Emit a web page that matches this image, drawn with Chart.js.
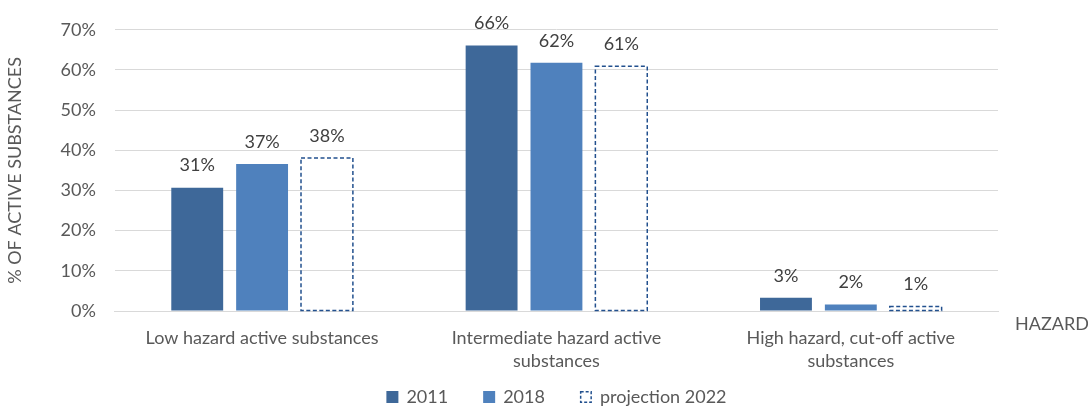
<!DOCTYPE html>
<html>
<head>
<meta charset="utf-8">
<script src="https://cdn.jsdelivr.net/npm/chart.js@4"></script>
<style>
  html, body { margin: 0; padding: 0; background: #fff; }
  #wrap { width: 1088px; height: 407px; }
</style>
</head>
<body>
<div id="wrap"><canvas id="hazardChart"></canvas></div>
<script>
const categories = [
  "Low hazard active substances",
  ["Intermediate hazard active", "substances"],
  ["High hazard, cut-off active", "substances"]
];
const seriesNames = ["2011", "2018", "projection 2022"];
const values2011 = [30.7, 66.1, 3.3];
const values2018 = [36.6, 61.8, 1.6];
const values2022 = [38.1, 60.9, 1.1];
const labels2011 = ["31%", "66%", "3%"];
const labels2018 = ["37%", "62%", "2%"];
const labels2022 = ["38%", "61%", "1%"];
const yTicks = [0, 10, 20, 30, 40, 50, 60, 70];

const FONT = "Lato, 'Open Sans', sans-serif";
const TEXT = "#595959";
const SIZE = 18;
const C2011 = "#3E6899";
const C2018 = "#4F81BD";
const CDASH = "#22508E";

// dashed outline for projection bars, value labels, HAZARD title, legend
const extras = {
  id: "extras",
  afterDatasetsDraw(chart) {
    const ctx = chart.ctx;
    const area = chart.chartArea;
    ctx.save();
    ctx.strokeStyle = CDASH;
    ctx.lineWidth = 1.5;
    ctx.setLineDash([4, 2.5]);
    chart.getDatasetMeta(2).data.forEach(bar => {
      const p = bar.getProps(["x", "y", "width", "base"], true);
      ctx.strokeRect(p.x - p.width / 2, p.y, p.width, p.base - p.y);
    });
    ctx.restore();

    const allLabels = [labels2011, labels2018, labels2022];
    ctx.save();
    ctx.font = SIZE + "px " + FONT;
    ctx.fillStyle = "#404040";
    ctx.textAlign = "center";
    ctx.textBaseline = "middle";
    allLabels.forEach((lbls, di) => {
      chart.getDatasetMeta(di).data.forEach((bar, i) => {
        ctx.fillText(lbls[i], bar.x, bar.y - 22);
      });
    });
    ctx.fillStyle = TEXT;
    ctx.textAlign = "left";
    ctx.fillText("HAZARD", area.right + 17, area.bottom + 13);

    // legend
    const box = 12, gapText = 8, gapItem = 35, ly = 397;
    const widths = seriesNames.map(s => box + gapText + ctx.measureText(s).width);
    const total = widths.reduce((a, b) => a + b, 0) + gapItem * (widths.length - 1);
    let x = (area.left + area.right) / 2 - total / 2;
    seriesNames.forEach((name, i) => {
      if (i < 2) {
        ctx.fillStyle = i === 0 ? C2011 : C2018;
        ctx.fillRect(x, ly - box / 2, box, box);
      } else {
        ctx.strokeStyle = CDASH;
        ctx.lineWidth = 1.5;
        ctx.setLineDash([3, 2]);
        ctx.strokeRect(x + 0.75, ly - box / 2 + 0.75, box - 1.5, box - 1.5);
        ctx.setLineDash([]);
      }
      ctx.fillStyle = TEXT;
      ctx.fillText(name, x + box + gapText, ly);
      x += widths[i] + gapItem;
    });
    ctx.restore();
  }
};

new Chart(document.getElementById("hazardChart"), {
  type: "bar",
  data: {
    labels: categories,
    datasets: [
      { label: seriesNames[0], data: values2011, backgroundColor: C2011 },
      { label: seriesNames[1], data: values2018, backgroundColor: C2018 },
      { label: seriesNames[2], data: values2022, backgroundColor: "rgba(0,0,0,0)" }
    ]
  },
  options: {
    responsive: true,
    maintainAspectRatio: false,
    animation: false,
    datasets: { bar: { categoryPercentage: 0.661, barPercentage: 0.8 } },
    layout: { padding: { top: 28, right: 90, left: 0, bottom: 27 } },
    scales: {
      x: {
        grid: { display: false },
        border: { color: "#D9D9D9", width: 1 },
        ticks: { color: TEXT, font: { family: FONT, size: SIZE, lineHeight: 1.25 }, maxRotation: 0, autoSkip: false, padding: 8 }
      },
      y: {
        min: 0, max: 70,
        afterBuildTicks(axis) { axis.ticks = yTicks.map(v => ({ value: v })); },
        grid: { color: "#D9D9D9", drawTicks: false },
        border: { display: false },
        ticks: { color: TEXT, font: { family: FONT, size: SIZE }, padding: 19, callback: v => v + "%" },
        title: { display: true, text: "% OF ACTIVE SUBSTANCES", color: TEXT, font: { family: FONT, size: SIZE }, padding: { bottom: 16 } }
      }
    },
    plugins: {
      tooltip: { enabled: false },
      legend: { display: false }
    }
  },
  plugins: [extras]
});
</script>
</body>
</html>
